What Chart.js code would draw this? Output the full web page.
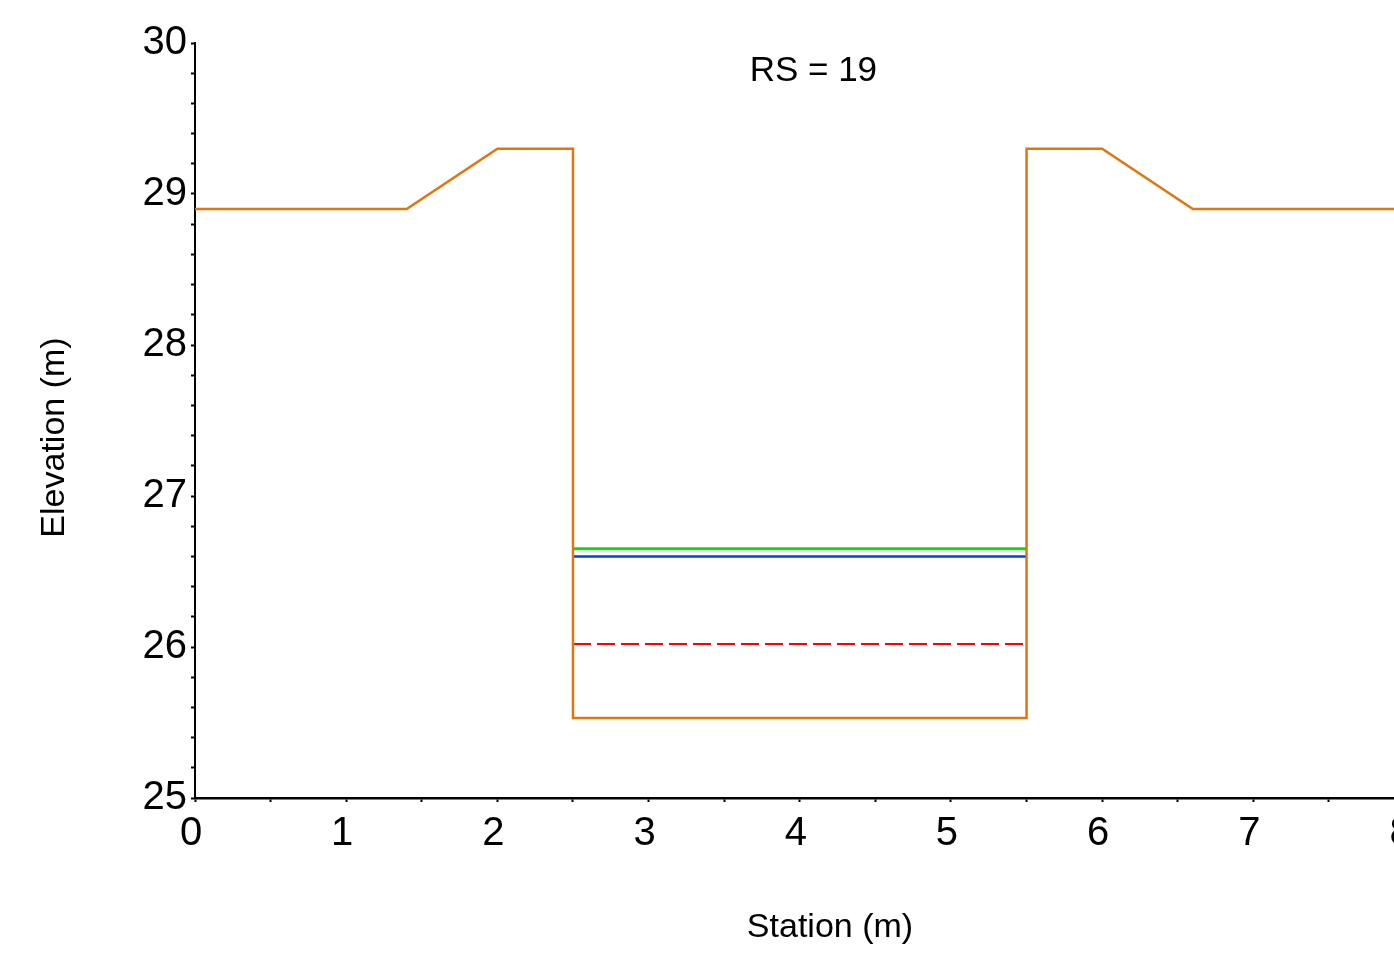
<!DOCTYPE html>
<html>
<head>
<meta charset="utf-8">
<script src="https://cdn.jsdelivr.net/npm/chart.js@4/dist/chart.umd.min.js"></script>
<style>
html,body{margin:0;padding:0;overflow:hidden;background:#fff;}
#wrap{width:1485px;height:955px;}
</style>
</head>
<body>
<div id="wrap"><canvas id="c" width="1485" height="955"></canvas></div>
<script>
// Ground profile (station m, elevation m)
const groundStation = [0, 1.40, 2.0, 2.5, 2.5, 5.5, 5.5, 6.0, 6.6, 8.0];
const groundElev    = [28.9, 28.9, 29.3, 29.3, 25.53, 25.53, 29.3, 29.3, 28.9, 28.9];
// Water surfaces across channel
const wsStation = [2.5, 5.5];
const egElev   = [26.65, 26.65];   // green
const wsElev   = [26.6, 26.6];     // blue
const critElev = [26.02, 26.02];   // red dashed
const xTicks = [0, 1, 2, 3, 4, 5, 6, 7, 8];
const yTicks = [25, 26, 27, 28, 29, 30];
const titleText = 'RS = 19';
const xTitle = 'Station (m)';
const yTitle = 'Elevation (m)';

const pts = (xs, ys) => xs.map((x, i) => ({x: x, y: ys[i]}));
const FONT = '"Liberation Sans", Arial, sans-serif';

const textLabels = {
  id: 'textLabels',
  afterDraw(chart) {
    const {ctx, scales, chartArea} = chart;
    ctx.save();
    ctx.fillStyle = '#000';
    ctx.textAlign = 'center';
    ctx.textBaseline = 'middle';
    ctx.font = '35px ' + FONT;
    ctx.fillText(titleText, scales.x.getPixelForValue(4.09), scales.y.getPixelForValue(29.81));
    ctx.font = '34px ' + FONT;
    ctx.translate(55, (chartArea.top + chartArea.bottom) / 2 + 17);
    ctx.rotate(-Math.PI / 2);
    ctx.fillText(yTitle, 0, 0);
    ctx.restore();
  }
};

new Chart(document.getElementById('c'), {
  type: 'scatter',
  data: {
    datasets: [
      {data: pts(groundStation, groundElev), showLine: true, borderColor: 'rgb(226,118,12)', borderWidth: 2.5, pointRadius: 0, tension: 0},
      {data: pts(wsStation, egElev), showLine: true, borderColor: 'rgb(20,215,20)', borderWidth: 3, pointRadius: 0},
      {data: pts(wsStation, wsElev), showLine: true, borderColor: 'rgb(0,60,255)', borderWidth: 2.5, pointRadius: 0},
      {data: pts(wsStation, critElev), showLine: true, borderColor: 'rgb(255,0,0)', borderWidth: 2, borderDash: [18, 6], pointRadius: 0}
    ]
  },
  options: {
    responsive: false,
    animation: false,
    layout: {padding: {top: 43, right: 20, left: 0, bottom: 0}},
    plugins: {legend: {display: false}, tooltip: {enabled: false}},
    scales: {
      x: {
        type: 'linear', min: 0, max: 8.4,
        afterFit(s) { s.height = 157; },
        border: {display: true, color: '#000', width: 2.5},
        grid: {drawOnChartArea: false, drawTicks: true, tickLength: 4, color: '#000', tickColor: '#000', tickWidth: 2},
        ticks: {
          stepSize: 0.5, includeBounds: false, autoSkip: false, maxRotation: 0, padding: 8, labelOffset: -4, color: '#000',
          font: {family: FONT, size: 40},
          callback: (v) => xTicks.includes(v) ? String(v) : ''
        },
        title: {display: true, text: xTitle, color: '#000', font: {family: FONT, size: 34}, padding: {top: 0, bottom: 7}}
      },
      y: {
        type: 'linear', min: 25, max: 30,
        afterFit(s) { s.width = 195; },
        border: {display: true, color: '#000', width: 2},
        grid: {drawOnChartArea: false, drawTicks: true, tickLength: 4, color: '#000', tickColor: '#000', tickWidth: 2},
        ticks: {
          stepSize: 0.2, autoSkip: false, padding: 4, color: '#000',
          font: {family: FONT, size: 40},
          callback: (v) => Math.abs(v - Math.round(v)) < 1e-6 && yTicks.includes(Math.round(v)) ? String(Math.round(v)) : ''
        },
        title: {display: false}
      }
    }
  },
  plugins: [textLabels]
});
</script>
</body>
</html>
